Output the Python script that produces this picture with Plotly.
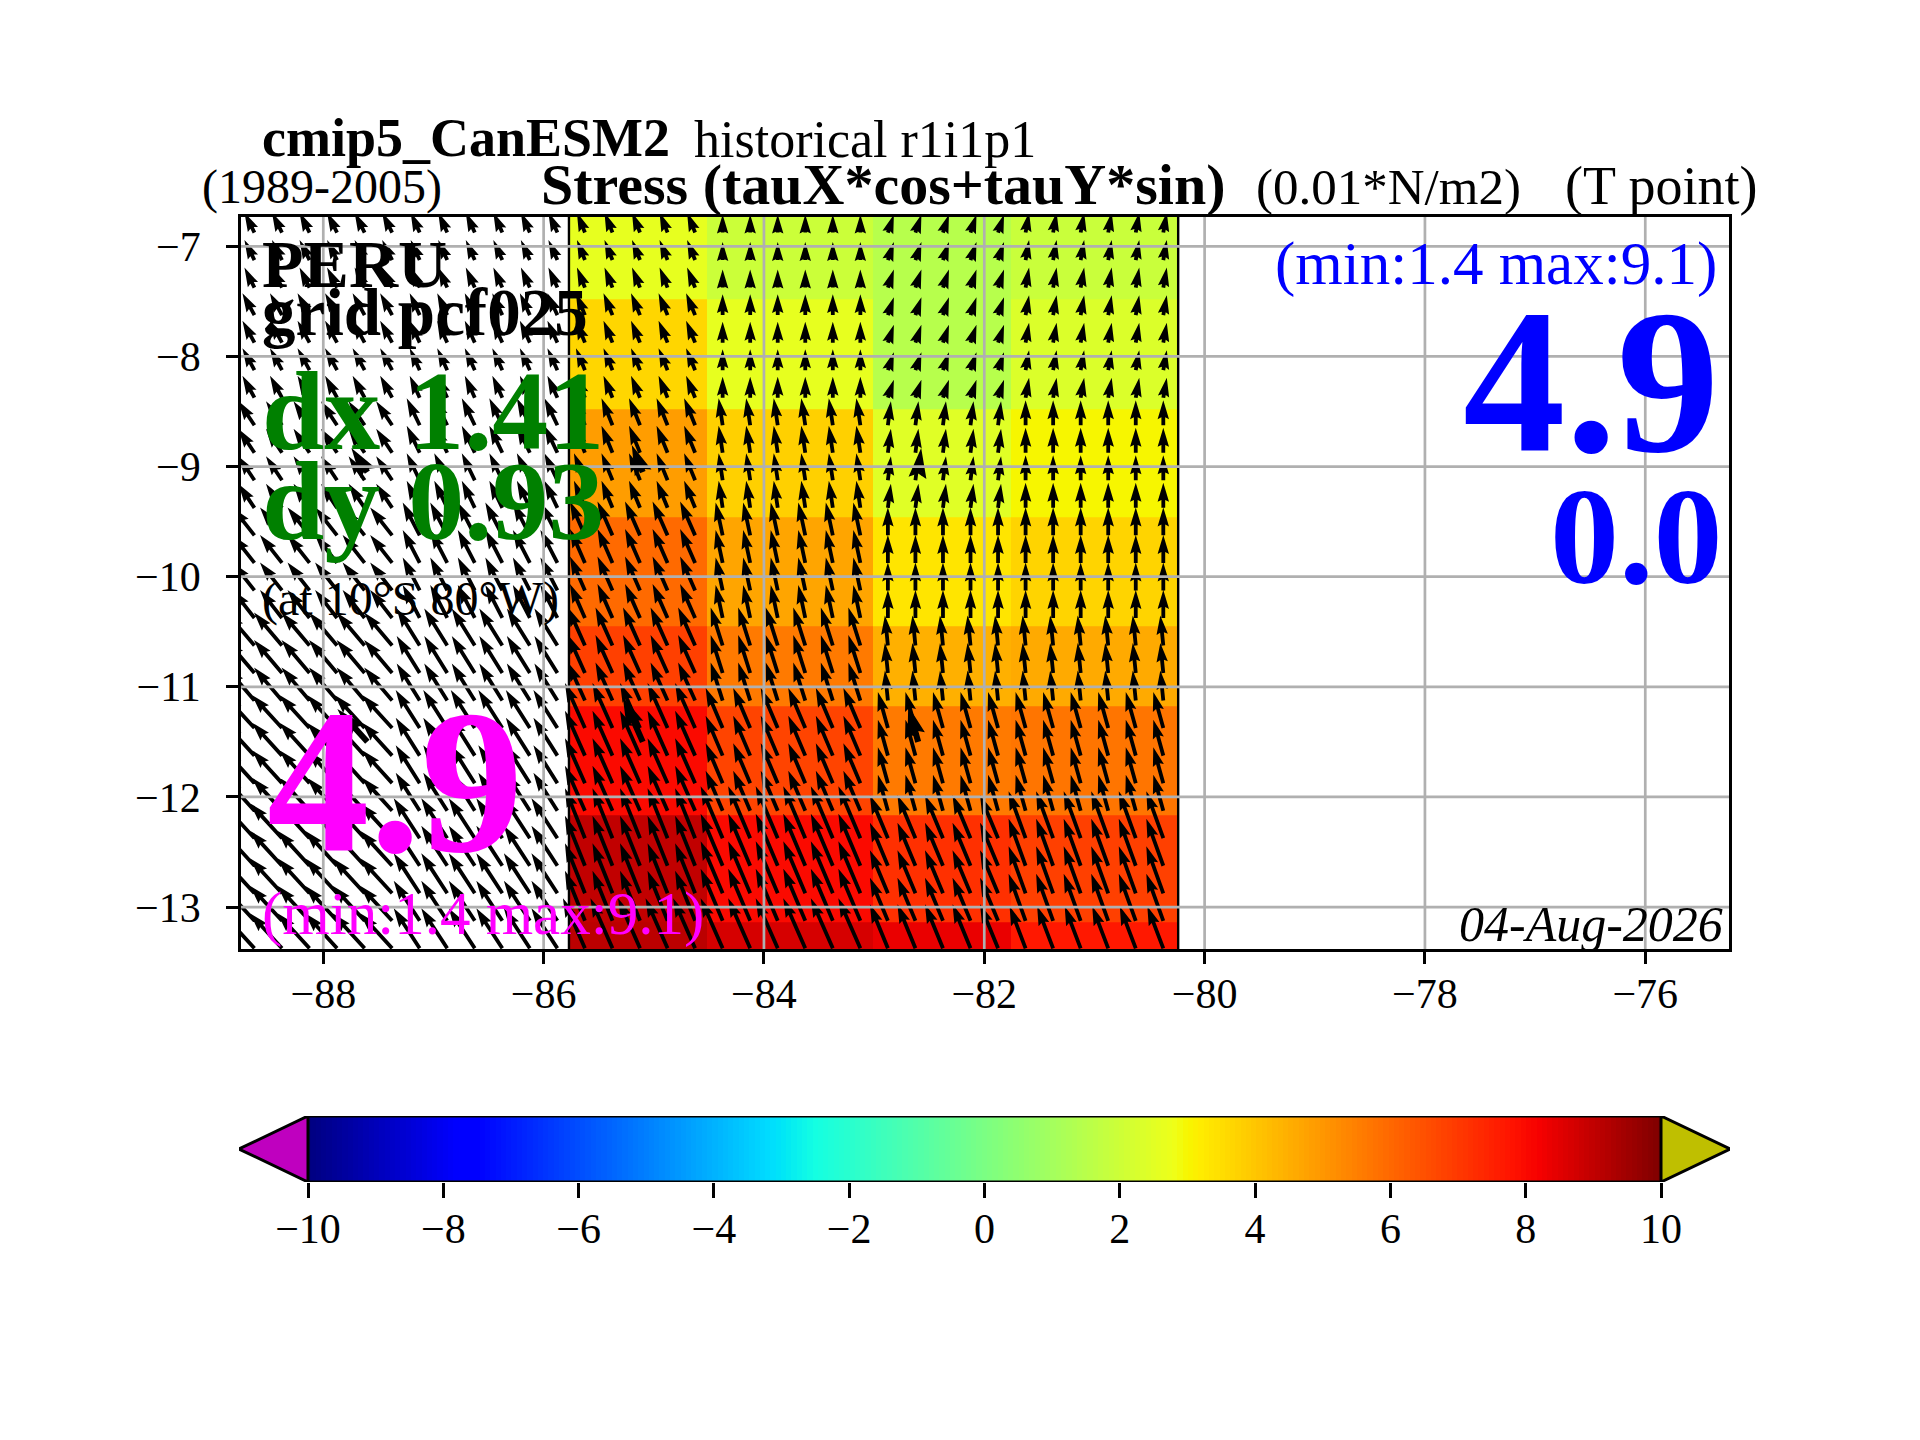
import numpy as np
import plotly.graph_objects as go

# the page has an 8px body margin, so the figure is 16px smaller than the window
PAGE = 8
W, H = 1920 - 2 * PAGE, 1440 - 2 * PAGE

# model cells, top row first
cell_lon = [-85.77, -84.52, -83.01, -81.76, -80.24]
cell_lat = [-6.5, -7.478, -8.476, -9.457, -10.446, -11.18, -12.163, -13.14, -13.5]
stress = [
    [2.64, 1.96, 1.46, 1.90],
    [3.66, 2.64, 1.46, 2.34],
    [4.88, 3.80, 2.46, 3.00],
    [5.96, 4.70, 3.34, 3.70],
    [6.85, 5.62, 4.48, 4.60],
    [8.00, 6.76, 5.62, 5.72],
    [9.00, 8.00, 7.18, 6.85],
    [9.10, 8.68, 8.38, 7.70],
]

# wind stress vectors, same rows, columns run on into the masked part
vec_lon = [-88.5, -87.18, -85.77, -84.52, -83.01, -81.76]
tau_x = [
    [-10, -10, -9, -8, 0, 6, 3.5],
    [-12, -12, -10, -9, 0, 6, 3.5],
    [-16, -16, -13, -11, -4, 3, 0],
    [-22, -22, -17, -15, -7, 0, 0],
    [-28, -28, -23, -17, -12, -3, -3],
    [-30, -30, -24, -20, -17, -10, -10],
    [-32, -32, -26, -20, -22, -18, -17],
    [-32, -32, -26, -22, -22, -18, -16],
]
tau_y = [
    [20, 20, 20, 20, 18, 18, 20],
    [22, 22, 22, 22, 21, 18, 20],
    [24, 24, 27, 27, 27, 24, 25],
    [28, 28, 33, 34, 33, 28, 28],
    [33, 33, 37, 38, 38, 30, 30],
    [33, 33, 38, 45, 40, 36, 36],
    [35, 35, 40, 50, 52, 43, 47],
    [35, 35, 40, 50, 50, 44, 42],
]
quiver_lon = np.arange(-88.625, -80.3, 0.25)
quiver_lat = np.arange(-6.875, -13.5, -0.25)
bold_lon = [-87.6, -85.1, -82.6]
bold_lat = [-9.05, -11.5]

x_ticks = [-88, -86, -84, -82, -80, -78, -76]
y_ticks = [-13, -12, -11, -10, -9, -8, -7]
cbar_ticks = [-10, -8, -6, -4, -2, 0, 2, 4, 6, 8, 10]

jet = [
    [0.0, "rgb(0,0,127)"], [0.11, "rgb(0,0,255)"], [0.125, "rgb(0,0,255)"],
    [0.34, "rgb(0,219,255)"], [0.35, "rgb(0,229,247)"], [0.375, "rgb(20,255,226)"],
    [0.64, "rgb(238,255,25)"], [0.65, "rgb(247,246,0)"], [0.66, "rgb(255,236,0)"],
    [0.89, "rgb(255,19,0)"], [0.91, "rgb(246,0,0)"], [1.0, "rgb(127,0,0)"],
]

X0, X1, Y0, Y1 = 241 - PAGE, 1729 - PAGE, 217 - PAGE, 949 - PAGE
DEG = 110.2  # pixels per degree, both ways
UNIT = 1.0 / DEG


def arrow(lon, lat, u, v, width):
    """Outline of a filled quiver arrow, tail at lon/lat."""
    length = np.hypot(u, v) * UNIT
    ax, ay = u * UNIT / length, v * UNIT / length
    px, py = -ay, ax
    along = [0, length - 4.5 * width, length - 5 * width, length,
             length - 5 * width, length - 4.5 * width, 0, 0]
    side = [-.5, -.5, -1.5, 0, 1.5, .5, .5, -.5]
    xs = [lon + a * ax + s * width * px for a, s in zip(along, side)]
    ys = [lat + a * ay + s * width * py for a, s in zip(along, side)]
    return xs + [None], ys + [None]


def block(lon, lat):
    col = int(np.searchsorted(vec_lon, lon))
    row = int(np.searchsorted(-np.array(cell_lat), -lat)) - 1
    return tau_x[row][col], tau_y[row][col]


def arrows_trace(lons, lats, width):
    xs, ys = [], []
    for lat in lats:
        for lon in lons:
            u, v = block(lon, lat)
            ax_, ay_ = arrow(lon, lat, u, v, width)
            xs += ax_
            ys += ay_
    return go.Scatter(x=xs, y=ys, mode="lines", fill="toself", fillcolor="black",
                      line=dict(width=0, simplify=False), hoverinfo="skip", showlegend=False)


fig = go.Figure()
fig.add_trace(go.Heatmap(
    x=cell_lon, y=cell_lat[::-1], z=stress[::-1],
    zmin=-10, zmax=10, colorscale=jet, showscale=False,
))
fig.add_trace(arrows_trace(quiver_lon, quiver_lat, 3.8 / DEG))
fig.add_trace(arrows_trace(bold_lon, bold_lat, 6.0 / DEG))

# edge of the field
fig.add_trace(go.Scatter(
    x=[cell_lon[0], cell_lon[0], None, cell_lon[-1], cell_lon[-1]],
    y=[-6, -14, None, -6, -14],
    mode="lines", line=dict(color="black", width=2.4), hoverinfo="skip", showlegend=False,
))

# grid sits on top of the arrows
gx, gy = [], []
for t in x_ticks:
    gx += [t, t, None]
    gy += [-14, -6, None]
for t in y_ticks:
    gx += [-89, -75, None]
    gy += [t, t, None]
fig.add_trace(go.Scatter(x=gx, y=gy, mode="lines", line=dict(color="#b0b0b0", width=2.7),
                         hoverinfo="skip", showlegend=False))

# colorbar
levels = np.linspace(-10, 10, 257)
fig.add_trace(go.Heatmap(
    x=levels, y=[0, 1], z=[levels, levels], zmin=-10, zmax=10,
    colorscale=jet, showscale=False, xaxis="x2", yaxis="y2",
))
fig.add_trace(go.Scatter(x=[-10, -11.02, -10, -10], y=[0, 0.5, 1, 0], mode="lines", fill="toself",
                         fillcolor="#bf00bf", line=dict(color="black", width=3),
                         xaxis="x2", yaxis="y2", hoverinfo="skip", showlegend=False,
                         cliponaxis=False))
fig.add_trace(go.Scatter(x=[10, 11.02, 10, 10], y=[0, 0.5, 1, 0], mode="lines", fill="toself",
                         fillcolor="#bfbf00", line=dict(color="black", width=3),
                         xaxis="x2", yaxis="y2", hoverinfo="skip", showlegend=False,
                         cliponaxis=False))
fig.add_trace(go.Scatter(x=[-10, 10, None, -10, 10], y=[0, 0, None, 1, 1], mode="lines",
                         line=dict(color="black", width=3.2), xaxis="x2", yaxis="y2",
                         hoverinfo="skip", showlegend=False, cliponaxis=False))

SERIF = "Liberation Serif"


def label(text, x, base, size, color="black", anchor="left"):
    # x and baseline in window pixels
    fig.add_annotation(
        text=text, xref="paper", yref="paper",
        x=(x - PAGE) / W, y=1 - (base - PAGE + 0.26 * size) / H,
        xanchor=anchor, yanchor="bottom", showarrow=False, borderpad=0,
        font=dict(family=SERIF, size=size, color=color),
    )


label("<b>cmip5_CanESM2</b>", 261, 155, 54)
label("historical r1i1p1", 693, 155, 52)
label("(1989-2005)", 201, 203, 48)
label("<b>Stress (tauX*cos+tauY*sin)</b>", 540, 203, 58)
label("(0.01*N/m2)", 1255, 203, 51)
label("(T point)", 1564, 203, 54)

label("<b>PERU</b>", 261, 285, 68)
label("<b>grid pcf025</b>", 261, 333, 67)
label("<b>dx 1.41</b>", 261, 445, 112, "#008000")
label("<b>dy 0.93</b>", 261, 535, 112, "#008000")
label("(at 10°S 80°W)", 261, 615, 48)
label("<b>4.9</b>", 266, 843, 205, "#ff00ff")
label("(min:1.4 max:9.1)", 261, 933, 61, "#ff00ff")
label("(min:1.4 max:9.1)", 1718, 283, 61, "#0000ff", "right")
label("<b>4.9</b>", 1720, 443, 205, "#0000ff", "right")
label("<b>0.0</b>", 1724, 578, 138, "#0000ff", "right")
label("<i>04-Aug-2026</i>", 1724, 940, 50, "black", "right")

axis_font = dict(family=SERIF, size=42, color="black")
fig.update_layout(
    width=W, height=H, margin=dict(l=0, r=0, t=0, b=0),
    paper_bgcolor="white", plot_bgcolor="white", showlegend=False,
    xaxis=dict(
        domain=[X0 / W, X1 / W], range=[-88.747, -75.24], tickvals=x_ticks,
        ticks="outside", ticklen=12, tickwidth=2.7, tickcolor="black", showgrid=False,
        zeroline=False, showline=True, linecolor="black", linewidth=2.7, mirror=True,
        tickfont=axis_font, anchor="y", ticklabelstandoff=-6,
    ),
    yaxis=dict(
        domain=[1 - Y1 / H, 1 - Y0 / H], range=[-13.381, -6.734], tickvals=y_ticks,
        ticks="outside", ticklen=12, tickwidth=2.7, tickcolor="black", showgrid=False,
        zeroline=False, showline=True, linecolor="black", linewidth=2.7, mirror=True,
        tickfont=axis_font, anchor="x", ticklabelstandoff=17,
    ),
    xaxis2=dict(
        domain=[(239 - PAGE) / W, (1730 - PAGE) / W], range=[-11.02, 11.02], tickvals=cbar_ticks,
        ticks="outside", ticklen=15, tickwidth=2.7, tickcolor="black", showgrid=False,
        zeroline=False, showline=False, tickfont=axis_font, anchor="y2", ticklabelstandoff=-5,
    ),
    yaxis2=dict(
        domain=[1 - (1182 - PAGE) / H, 1 - (1116 - PAGE) / H], range=[0, 1], visible=False,
        anchor="x2",
    ),
)

fig.write_html("out.html")
